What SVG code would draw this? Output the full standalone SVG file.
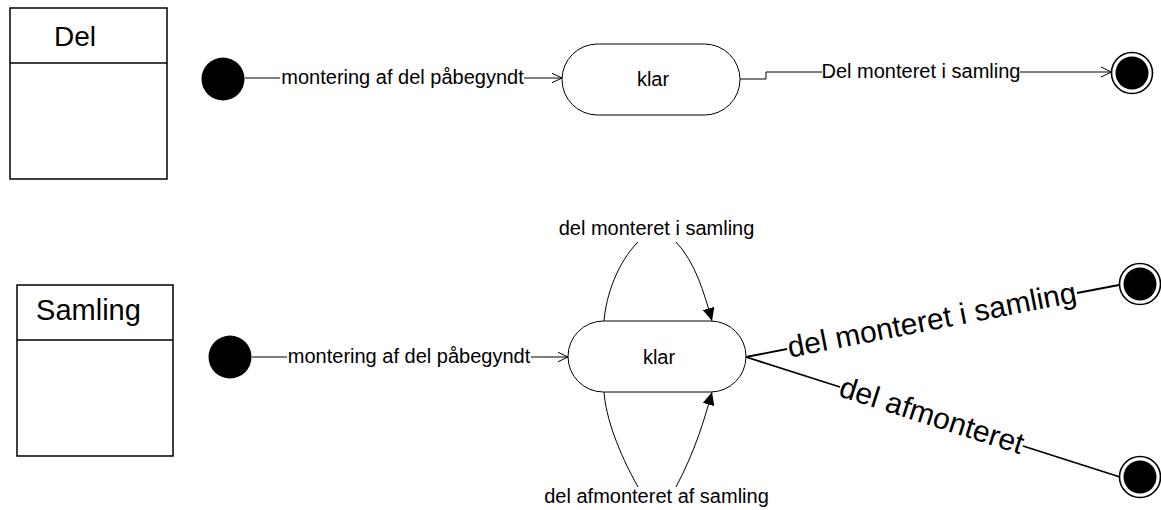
<svg xmlns="http://www.w3.org/2000/svg" width="1161" height="510" viewBox="0 0 1161 510">
<defs>
<marker id="open" viewBox="0 0 11 12" refX="10.5" refY="6" markerWidth="11" markerHeight="12" markerUnits="userSpaceOnUse" orient="auto">
<path d="M0,1 L10.5,6 L0,11" fill="none" stroke="#000" stroke-width="1"/>
</marker>
<marker id="filled" viewBox="0 0 13 12" refX="13" refY="6" markerWidth="13" markerHeight="12" markerUnits="userSpaceOnUse" orient="auto">
<path d="M0,0 L13,6 L0,12 z" fill="#000"/>
</marker>
<style>
text{font-family:"Liberation Sans",Arial,sans-serif;fill:#000}
.cls{fill:#fff;stroke:#000;stroke-width:1.5}
.state{fill:#fff;stroke:#000;stroke-width:1}
.init{fill:#000}
.fo{fill:#fff;stroke:#000;stroke-width:1.6}
.fi{fill:#000}
.c{fill:none;stroke:#000;stroke-width:1}
.cb{fill:none;stroke:#000;stroke-width:1.8}
.lbl{font-size:20px;text-anchor:middle}
.big{font-size:30px;text-anchor:middle}
</style>
</defs>
<g id="del-class">
<rect class="cls" x="10" y="8" width="157" height="171"/>
<line class="cls" x1="10" y1="63" x2="167" y2="63"/>
<text x="75" y="46" font-size="28" text-anchor="middle">Del</text>
</g>
<g id="samling-class">
<rect class="cls" x="17" y="285" width="156" height="171"/>
<line class="cls" x1="17" y1="340" x2="173" y2="340"/>
<text x="88.5" y="320" font-size="29" text-anchor="middle">Samling</text>
</g>
<g id="del-initial"><circle class="init" cx="223" cy="79" r="21.5"/></g>
<g id="del-klar">
<rect class="state" x="562" y="44" width="178" height="71" rx="35.5" ry="35.5"/>
<text x="653" y="86" font-size="20" text-anchor="middle">klar</text>
</g>
<g id="del-final"><circle class="fo" cx="1132" cy="73" r="20.5"/><circle class="fi" cx="1132" cy="73" r="16.5"/></g>
<g id="samling-initial"><circle class="init" cx="230" cy="357" r="21.5"/></g>
<g id="samling-klar">
<rect class="state" x="568" y="321" width="178" height="71" rx="35.5" ry="35.5"/>
<text x="659" y="364" font-size="20" text-anchor="middle">klar</text>
</g>
<g id="samling-final-1"><circle class="fo" cx="1140" cy="284" r="20.5"/><circle class="fi" cx="1140" cy="284" r="16.5"/></g>
<g id="samling-final-2"><circle class="fo" cx="1140" cy="477" r="20.5"/><circle class="fi" cx="1140" cy="477" r="16.5"/></g>
<g id="connectors">
<line class="c" x1="245" y1="78" x2="280" y2="78"/>
<text class="lbl" x="402.5" y="84">montering af del påbegyndt</text>
<line class="c" x1="524" y1="78" x2="562" y2="78" marker-end="url(#open)"/>
<path class="c" d="M740,79 H766 V72 H822"/>
<text class="lbl" x="921" y="78">Del monteret i samling</text>
<line class="c" x1="1020" y1="72" x2="1111.5" y2="72" marker-end="url(#open)"/>
<line class="c" x1="252" y1="357" x2="287" y2="357"/>
<text class="lbl" x="409" y="363">montering af del påbegyndt</text>
<line class="c" x1="531" y1="357" x2="568" y2="357" marker-end="url(#open)"/>
<path class="c" d="M604,321 C606,295 618,262 638,242"/>
<path class="c" d="M676,242 C695,262 704,292 712,321" marker-end="url(#filled)"/>
<text class="lbl" x="656.5" y="235">del monteret i samling</text>
<path class="c" d="M604,392 C606,418 618,451 638,487"/>
<path class="c" d="M676,487 C695,451 704,421 712,392" marker-end="url(#filled)"/>
<text class="lbl" x="656.5" y="503">del afmonteret af samling</text>
<path class="cb" d="M746,357 L787,349 M1077,293 L1119,285"/>
<text class="big" transform="translate(932,321) rotate(-10.95)" x="0" y="9">del monteret i samling</text>
<path class="cb" d="M746,357 L840,387 M1023,446 L1120,477"/>
<text class="big" transform="translate(931.5,416.5) rotate(17.8)" x="0" y="9">del afmonteret</text>
</g>
</svg>
